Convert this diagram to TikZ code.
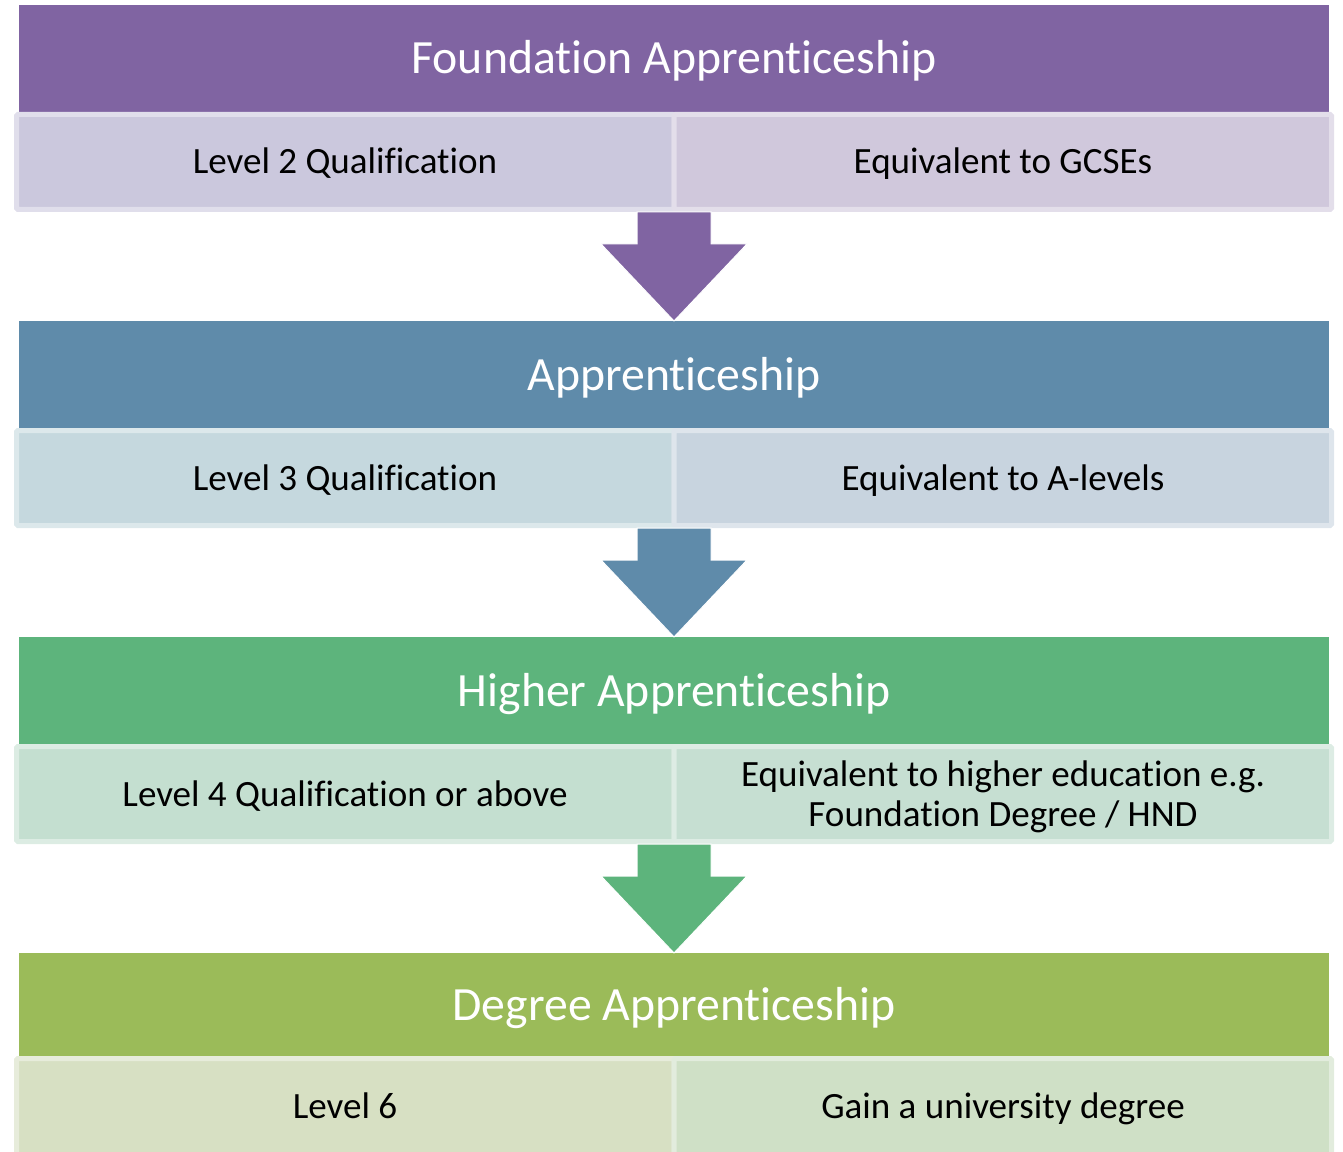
\documentclass[tikz,border=0pt]{standalone}
\usepackage{fontspec}
\setmainfont{Carlito}[RawFeature={-liga;-clig;-calt;-dlig}]
\definecolor{hA}{HTML}{8064A2}
\definecolor{lA}{HTML}{CBC8DD}
\definecolor{rA}{HTML}{D0C8DC}
\definecolor{hB}{HTML}{5F8BAA}
\definecolor{lB}{HTML}{C5D8DE}
\definecolor{rB}{HTML}{C8D4DF}
\definecolor{hC}{HTML}{5DB47C}
\definecolor{lC}{HTML}{C4DFD0}
\definecolor{rC}{HTML}{C6DFD2}
\definecolor{hD}{HTML}{9BBB59}
\definecolor{lD}{HTML}{D7E0C3}
\definecolor{rD}{HTML}{CFE0C6}
\tikzset{
  hdrtext/.style={anchor=base,text=white,font=\fontsize{35.8pt}{38pt}\selectfont,inner sep=0pt},
  subtext/.style={anchor=base,text=black,font=\fontsize{27.8pt}{30pt}\selectfont,inner sep=0pt},
  subbox/.style={line width=3.75pt,rounded corners=1pt},
  downarrow/.style={draw=white,line width=0.75pt}
}
\begin{document}
\begin{tikzpicture}[x=0.75pt,y=-0.75pt]
\useasboundingbox (0,0) rectangle (1343,1152);
% row 1
\fill[hA] (19,5) rectangle (1329,112);
\draw[subbox,fill=lA,draw=lA!60!white] (16.5,114.5) rectangle (674,209.5);
\draw[subbox,fill=rA,draw=rA!60!white] (674,114.5) rectangle (1331.5,209.5);
\node[hdrtext] (h1) at (674,74) {Foundation Apprenticeship};
\node[subtext] (l1) at (345,174) {Level 2 Qualification};
\node[subtext] (r1) at (1003,174) {Equivalent to GCSEs};
% row 2
\fill[hB] (19,321) rectangle (1329,428);
\draw[subbox,fill=lB,draw=lB!60!white] (16.5,430.5) rectangle (674,525.5);
\draw[subbox,fill=rB,draw=rB!60!white] (674,430.5) rectangle (1331.5,525.5);
\node[hdrtext] (h2) at (674,390) {Apprenticeship};
\node[subtext] (l2) at (345,490) {Level 3 Qualification};
\node[subtext] (r2) at (1003,490) {Equivalent to A-levels};
% row 3
\fill[hC] (19,637) rectangle (1329,744);
\draw[subbox,fill=lC,draw=lC!60!white] (16.5,746.5) rectangle (674,841.5);
\draw[subbox,fill=rC,draw=rC!60!white] (674,746.5) rectangle (1331.5,841.5);
\node[hdrtext] (h3) at (674,706) {Higher Apprenticeship};
\node[subtext] (l3) at (345,806) {Level 4 Qualification or above};
\node[subtext] (r3a) at (1003,786) {Equivalent to higher education e.g.};
\node[subtext] (r3b) at (1003,826) {Foundation Degree / HND};
% row 4
\fill[hD] (19,953) rectangle (1329,1056);
\draw[subbox,fill=lD,draw=lD!60!white] (16.5,1058.5) rectangle (674,1160);
\draw[subbox,fill=rD,draw=rD!60!white] (674,1058.5) rectangle (1331.5,1160);
\node[hdrtext] (h4) at (674,1020) {Degree Apprenticeship};
\node[subtext] (l4) at (345,1118) {Level 6};
\node[subtext] (r4) at (1003,1118) {Gain a university degree};
% arrows
\draw[downarrow,fill=hA] (637,212) -- (711,212) -- (711,244) -- (747,244) -- (674,321) -- (601,244) -- (637,244) -- cycle;
\draw[downarrow,fill=hB] (637,528) -- (711,528) -- (711,560) -- (747,560) -- (674,637) -- (601,560) -- (637,560) -- cycle;
\draw[downarrow,fill=hC] (637,844) -- (711,844) -- (711,876) -- (747,876) -- (674,953) -- (601,876) -- (637,876) -- cycle;
\end{tikzpicture}
\end{document}
